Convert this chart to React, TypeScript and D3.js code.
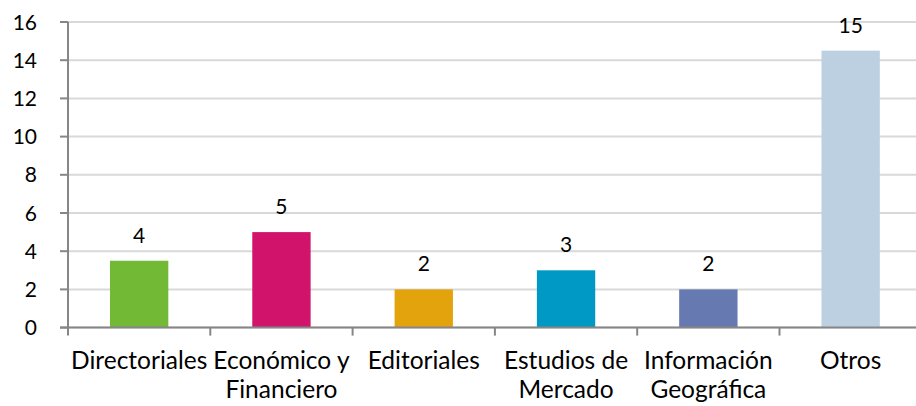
import React from "react";
import * as d3 from "d3";

const categories = ["Directoriales", "Económico y Financiero", "Editoriales", "Estudios de Mercado", "Información Geográfica", "Otros"];
const categoryLines = [["Directoriales"], ["Económico y", "Financiero"], ["Editoriales"], ["Estudios de", "Mercado"], ["Información", "Geográfica"], ["Otros"]];
const values = [3.5, 5, 2, 3, 2, 14.5];
const valueLabels = ["4", "5", "2", "3", "2", "15"];
const colors = ["#72b936", "#d1136c", "#e3a30c", "#0099c5", "#6679b1", "#bdd0e2"];
const yTicks = [0, 2, 4, 6, 8, 10, 12, 14, 16];

const W = 916;
const H = 406;
const FONT = "Lato, 'Open Sans', sans-serif";

export default function App() {
  const x = d3.scaleBand<string>().domain(categories).range([68, 921.8]).paddingInner(0.59).paddingOuter(0.295);
  const step = x.step();
  const x0 = 68;
  const y = d3.scaleLinear().domain([0, 16]).range([327.6, 22]);

  return (
    <svg width={W} height={H} style={{ position: "absolute", left: 0, top: 0, background: "#fff" }}>
      {yTicks.map((t) => (
        <line key={"g" + t} x1={x0} x2={W} y1={y(t)} y2={y(t)} stroke="#d9d9d9" strokeWidth={2} />
      ))}
      {categories.map((c, i) => (
        <rect key={"b" + c} x={x(c)} y={y(values[i])} width={x.bandwidth()} height={y(0) - y(values[i])} fill={colors[i]} />
      ))}
      <line x1={x0} x2={x0} y1={y(16)} y2={y(0) + 8} stroke="#868686" strokeWidth={2} />
      <line x1={x0 - 8} x2={W} y1={y(0)} y2={y(0)} stroke="#868686" strokeWidth={2} />
      {yTicks.map((t) => (
        <line key={"yt" + t} x1={x0 - 8} x2={x0} y1={y(t)} y2={y(t)} stroke="#868686" strokeWidth={2} />
      ))}
      {categories.map((c, i) => (
        <line key={"xt" + c} x1={x0 + step * (i + 1)} x2={x0 + step * (i + 1)} y1={y(0)} y2={y(0) + 8} stroke="#868686" strokeWidth={2} />
      ))}
      {yTicks.map((t) => (
        <text key={"yl" + t} x={37} y={y(t)} dy="0.36em" textAnchor="end" fontFamily={FONT} fontSize={21} fill="#000">
          {t}
        </text>
      ))}
      {categories.map((c, i) => (
        <text key={"vl" + c} x={(x(c) as number) + x.bandwidth() / 2} y={y(values[i]) - 18} textAnchor="middle" fontFamily={FONT} fontSize={21} fill="#000">
          {valueLabels[i]}
        </text>
      ))}
      {categories.map((c, i) => (
        <text key={"cl" + c} textAnchor="middle" fontFamily={FONT} fontSize={24.5} fill="#000">
          {categoryLines[i].map((ln, j) => (
            <tspan key={j} x={(x(c) as number) + x.bandwidth() / 2} y={369 + j * 28.5}>
              {ln}
            </tspan>
          ))}
        </text>
      ))}
    </svg>
  );
}
